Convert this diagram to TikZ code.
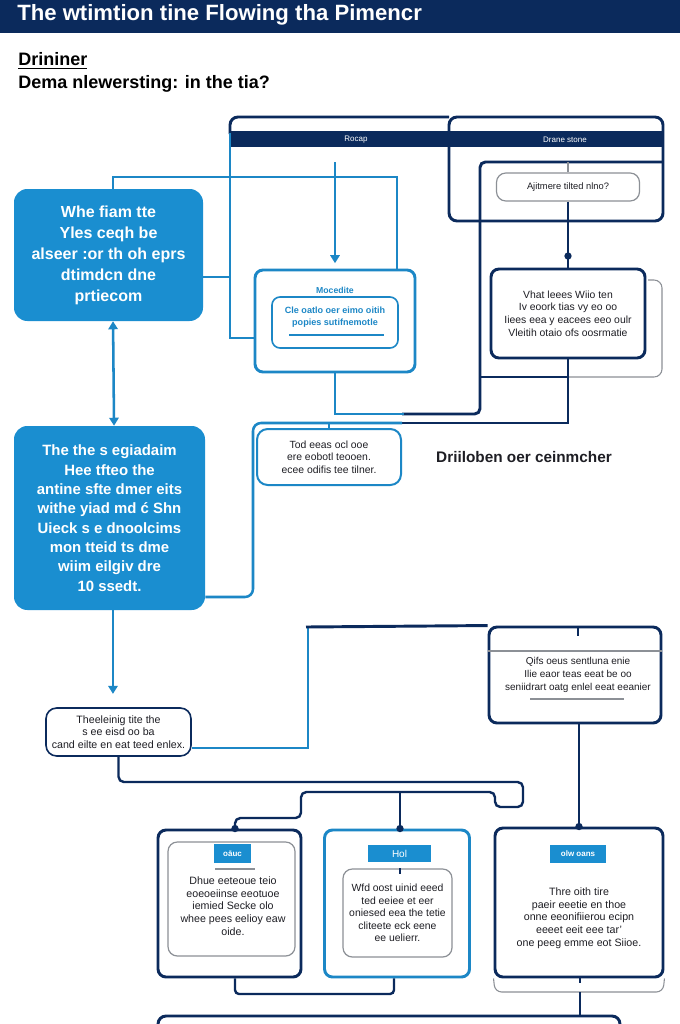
\documentclass[tikz,border=0pt]{standalone}
\usepackage{fontspec}
\setmainfont{Liberation Sans}
\usetikzlibrary{positioning,calc,arrows.meta}
\definecolor{navy}{HTML}{0B2A5C}
\definecolor{skyblue}{HTML}{1A8ED0}
\definecolor{lineblue}{HTML}{1C87C6}
\definecolor{framegray}{HTML}{8C9096}
\definecolor{ink}{HTML}{1E1E24}

\begin{document}
\begin{tikzpicture}[
    x=0.75pt, y=-0.75pt,
    wh/.style 2 args={minimum width=#1*0.75pt, minimum height=#2*0.75pt},
    navyline/.style={draw=navy, line width=2.2pt},
    blueline/.style={draw=lineblue, line width=1.9pt},
    grayline/.style={draw=framegray, line width=0.8pt},
    dot/.style={fill=navy, circle, inner sep=0pt, minimum size=5.5pt},
    tip/.style={-{Triangle[width=7pt,length=6pt]}},
    bluebox/.style={fill=skyblue, rounded corners=10pt, text=white, align=center, inner sep=0pt},
    card/.style={draw=navy, line width=2.2pt, rounded corners=6pt, fill=white, align=center, inner sep=0pt, text=ink},
    bluecard/.style={card, draw=lineblue},
    softbox/.style={draw=framegray, line width=0.9pt, rounded corners=7pt, align=center, inner sep=0pt, text=ink},
    tab/.style={fill=skyblue, text=white, inner sep=0pt, font=\fontsize{6}{7}\selectfont\bfseries},
    small/.style={font=\fontsize{7.8}{9.4}\selectfont},
    body/.style={font=\fontsize{8}{9.5}\selectfont}
  ]
  \useasboundingbox (0,0) rectangle (680,1024);
  \fill[white] (0,0) rectangle (680,1024);

  % heading
  \fill[navy] (0,0) rectangle (680,33);
  \node[anchor=base west, text=white, font=\fontsize{16.6}{18}\selectfont\bfseries, inner sep=0pt] (title) at (17,21) {The wtimtion tine Flowing tha Pimencr};
  \node[anchor=base west, font=\fontsize{13.5}{15}\selectfont\bfseries, inner sep=0pt] (sub_1) at (18,66) {\underline{Drininer}};
  \node[anchor=base west, font=\fontsize{13.5}{15}\selectfont\bfseries, inner sep=0pt] (sub_2) at (18,89) {Dema nlewersting: in the tia?};

  % top frame with two columns
  \draw[navyline, rounded corners=6pt] (449,117) rectangle (663,221);
  \draw[navyline, rounded corners=6pt] (449,117) -- (230,117) -- (230,134);
  \fill[navy] (230,131) rectangle (663,147);
  \node[text=white, font=\fontsize{6}{7}\selectfont] (col_a) at (356,140) {Rocap};
  \node[text=white, font=\fontsize{6}{7}\selectfont] (col_b) at (565,140) {Drane stone};

  % nodes
  \node[bluebox, wh={189}{132}, font=\fontsize{12}{15.75}\selectfont\bfseries] (q_scope) at (108.5,255)
    {Whe fiam tte\\Yles ceqh be\\alseer :or th oh eprs\\dtimdcn dne\\prtiecom};
  \node[bluebox, wh={191}{184}, font=\fontsize{11.2}{14.5}\selectfont\bfseries] (q_mixed) at (109.5,518)
    {The the s egiadaim\\Hee tfteo the\\antine sfte dmer eits\\withe yiad md ć Shn\\Uieck s e dnoolcims\\mon tteid ts dme\\wiim eilgiv dre\\10 ssedt.};

  \node[bluecard, wh={160}{102}] (mod) at (335,321) {};
  \node[text=lineblue, font=\fontsize{6.5}{8}\selectfont\bfseries] (mod_title) at (335,290) {Mocedite};
  \node[draw=lineblue, line width=1.2pt, rounded corners=6pt, wh={126}{51}] (mod_in) at (335,322.5) {};
  \node[text=lineblue, align=center, font=\fontsize{6.8}{8.8}\selectfont\bfseries] (mod_txt) at (335,317) {Cle oatlo oer eimo oitih\\popies sutifnemotle};
  \draw[lineblue, line width=1pt] (289,335) -- (384,335);

  \node[softbox, wh={143}{28}, font=\fontsize{7}{8}\selectfont] (ajit) at (568,187) {Ajitmere tilted nlno?};
  \node[card, wh={154}{89}, small] (what) at (568,313.5)
    {Vhat leees Wiio ten\\Iv eoork tias vy eo oo\\Iiees eea y eacees eeo oulr\\Vleitih otaio ofs oosrmatie};

  \node[draw=lineblue, line width=1.5pt, rounded corners=8pt, wh={144}{56}, align=center, text=ink, small] (tod) at (329,457)
    {Tod eeas ocl ooe\\ere eobotl teooen.\\ecee odifis tee tilner.};
  \node[font=\fontsize{11.5}{13}\selectfont\bfseries, text=ink] (note) at (524,457) {Driiloben oer ceinmcher};

  \node[draw=navy, line width=1.2pt, rounded corners=8pt, wh={145}{48}, align=center, text=ink, body] (thes) at (118.5,732)
    {Theeleinig tite the\\s ee eisd oo ba\\cand eilte en eat teed enlex.};
  \node[card, wh={172}{96}] (qifs) at (575,675) {};
  \node[align=center, text=ink, font=\fontsize{7.5}{10}\selectfont] (qifs_txt) at (578,675)
    {Qifs oeus sentluna enie\\Ilie eaor teas eeat be oo\\seniidrart oatg enlel eeat eeanier};
  \draw[grayline] (qifs.west |- 0,651) -- (qifs.east |- 0,651);
  \draw[grayline] (530,699) -- (624,699);
  \draw[navy, line width=1pt] (578,628) -- (578,636);

  % bottom row
  \node[card, wh={143}{147}] (bl) at (229.5,903.5) {};
  \node[softbox, wh={127}{114}] (bl_in) at (231.5,899) {};
  \node[tab, wh={37}{19}] (bl_tab) at (232.5,853.5) {oāuc};
  \draw[grayline] (215,869) -- (255,869);
  \node[align=center, text=ink, body] (bl_txt) at (233,906)
    {Dhue eeteoue teio\\eoeoeiinse eeotuoe\\iemied Secke olo\\whee pees eelioy eaw\\oide.};

  \node[bluecard, wh={145}{147}] (bm) at (397,903.5) {};
  \node[tab, wh={63}{17}, font=\fontsize{7.5}{8}\selectfont] (bm_tab) at (399.5,853.5) {Hol};
  \node[softbox, wh={109}{88}, small] (bm_in) at (397.5,913)
    {Wfd oost uinid eeed\\ted eeiee et eer\\oniesed eea the tetie\\cliteete eck eene\\ee uelierr.};
  \draw[navy, line width=0.8pt] (bm_in.north -| 400,0) -- ++(0,6);

  \node[card, wh={168}{149}] (br) at (579,902.5) {};
  \node[tab, wh={56}{18}] (br_tab) at (578,854) {olw oans};
  \node[align=center, text=ink, body] (br_txt) at (579,918)
    {Thre oith tire\\paeir eeetie en thoe\\onne eeonifiierou ecipn\\eeeet eeit eee tar'\\one peeg emme eot Siioe.};

  \node[card, wh={462}{48}] (last) at (389,1040) {};

  % connectors
  \coordinate (top_l) at (230,338);
  \draw[blueline] (230,133) -- (top_l) -- (top_l -| mod.west);
  \coordinate (link_1) at (230,277);
  \draw[blueline] (link_1) -- (link_1 -| q_scope.east);
  \coordinate (hub_1) at (397,177);
  \draw[blueline] ([xshift=3.4pt]q_scope.north) |- (hub_1) -- (hub_1 |- mod.north);
  \draw[blueline, tip, shorten >=4pt] (mod.north |- 0,162) -- (mod.north);

  \draw[navyline, rounded corners=4pt] (663,162) -- (480,162) -- (480,414) -- (402,414);
  \draw[blueline] (404,414) -- (mod.south |- 0,414) -- (mod.south);

  \draw[grayline] (ajit.north) -- (ajit.north |- 0,162);
  \draw[navyline, line width=1.8pt] (ajit.south) -- (what.north);
  \node[dot] (dot_1) at (ajit.south |- 0,256) {};
  \draw[navyline] (480,377) -- (568,377);
  \draw[grayline, rounded corners=6pt] (568,377) -- (662,377) -- (662,280) -- (648,280);

  \coordinate (tod_r) at (400,423);
  \coordinate (tod_l) at (253,597);
  \draw[navyline] (what.south) |- (tod_r);
  \draw[blueline, rounded corners=6pt] (402,423) -| (tod_l) -- (tod_l -| q_mixed.east);
  \draw[lineblue, line width=0.8pt] (tod.north) -- ++(0,-6);

  \draw[blueline, {Triangle[width=7pt,length=6pt]}-{Triangle[width=7pt,length=6pt]}] ([xshift=3.4pt]q_scope.south) -- ([xshift=3.4pt]q_mixed.north);
  \draw[blueline, tip, shorten >=10pt] ([xshift=2.6pt]q_mixed.south) -- ([xshift=2.6pt]q_mixed.south |- thes.north);

  \coordinate (q_hook) at (308,748);
  \draw[blueline] (thes.east |- q_hook) -- (q_hook) -- (308,627);
  \draw[navyline] (306,627) -- (qifs.north west);

  \draw[navyline] (qifs.south -| br.north) -- (br.north);
  \node[dot] (dot_2) at (br.north) {};

  \draw[navyline, line width=1.8pt, rounded corners=4pt] (thes.south) |- (523,782) |- (495,807) |- (301,792) |- (235,818) -- (bl.north -| 235,0);
  \node[dot] (dot_3) at (bl.north -| 235,0) {};
  \draw[navyline, line width=1.8pt] (400,792) -- (bm.north -| 400,0);
  \node[dot] (dot_4) at (bm.north -| 400,0) {};
  \draw[navyline, line width=1.8pt, rounded corners=3pt] (bl.south -| 235,0) -- (235,994) -| (bm.south -| 394,0);

  \draw[grayline, rounded corners=5pt] (br.south west) -- (495,992) -- (663,992) -- (br.south east);
  \draw[navy, line width=1pt] (580,977) -- (580,983);
  \draw[navyline, line width=1.8pt] (580,992) -- (last.north -| 580,0);
\end{tikzpicture}
\end{document}
